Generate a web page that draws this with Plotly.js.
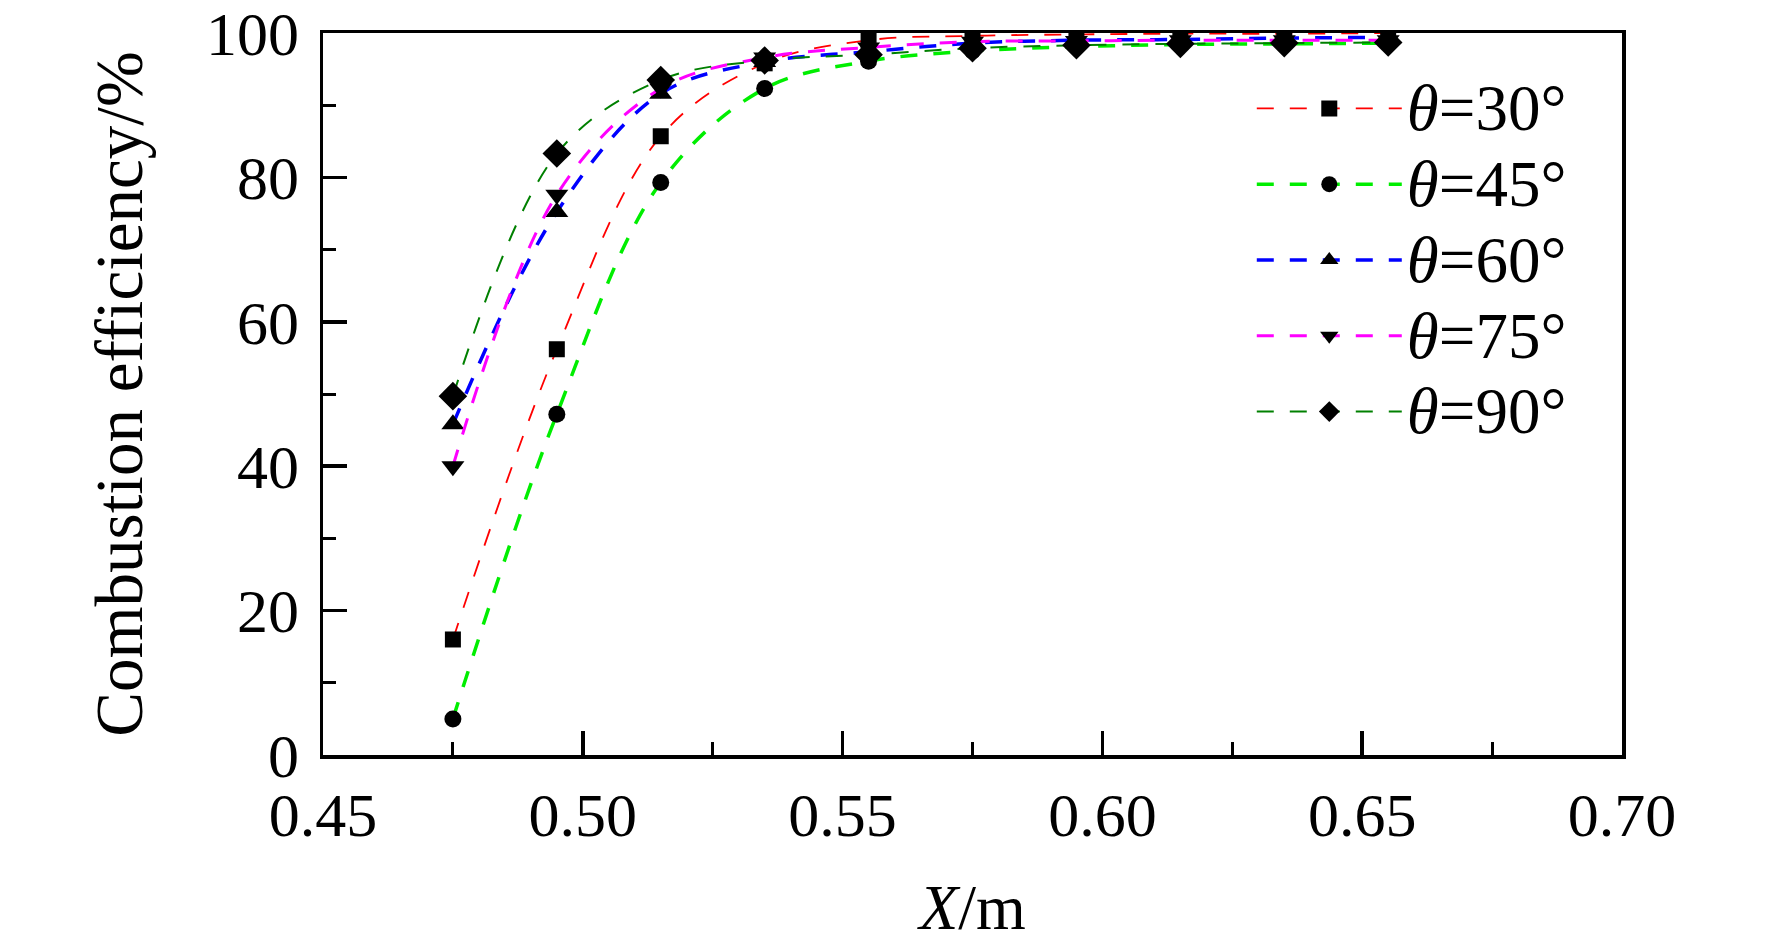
<!DOCTYPE html>
<html>
<head>
<meta charset="utf-8">
<script src="https://cdn.plot.ly/plotly-3.0.1.min.js"></script>
<style>
  html, body { margin: 0; padding: 0; background: #fff; }
  #chart { width: 1772px; height: 950px; }
</style>
</head>
<body>
<div id="chart"></div>
<script>
// ─── Data ─────────────────────────────────────────────────────────────────────
const xPos = [0.475, 0.495, 0.515, 0.535, 0.555, 0.575, 0.595, 0.615, 0.635, 0.655];

const eff30 = [16.0, 56.2, 85.7, 95.8, 99.0, 99.6, 99.8, 99.9, 99.9, 100.0];
const eff45 = [5.0, 47.2, 79.3, 92.3, 96.1, 97.5, 98.1, 98.4, 98.5, 98.6];
const eff60 = [45.8, 75.2, 91.6, 96.0, 97.4, 98.6, 99.0, 99.1, 99.3, 99.4];
const eff75 = [40.0, 77.6, 92.3, 96.6, 98.0, 98.8, 98.9, 99.0, 99.0, 99.0];
const eff90 = [49.7, 83.3, 93.5, 96.2, 97.0, 97.9, 98.3, 98.5, 98.6, 98.7];

const angles     = ['30', '45', '60', '75', '90'];
const seriesData = [eff30, eff45, eff60, eff75, eff90];

// ─── Styling ──────────────────────────────────────────────────────────────────
const lineColors  = ['#ff0000', '#00ee00', '#0000ff', '#ff00ff', '#008000'];
const lineWidths  = [1.8, 3.5, 3.5, 3, 2];
const markerShape = ['square', 'circle', 'triangle-up', 'triangle-down', 'diamond'];
const markerSizes = [16, 17, 20, 20, 22];

const FONT = 'Liberation Serif, Times New Roman, serif';

// legend text is drawn larger than the legend font so the rows stay tight
const legendLabel = a => `<span style="font-size:65px"><i>θ</i>=${a}°</span>`;

const traces = seriesData.map((vals, i) => ({
  x: xPos,
  y: vals,
  type: 'scatter',
  mode: 'lines+markers',
  name: legendLabel(angles[i]),
  line: {
    color: lineColors[i],
    width: lineWidths[i],
    dash: '17px,16px',
    shape: 'spline',
    smoothing: 1,
  },
  marker: {
    symbol: markerShape[i],
    size: markerSizes[i],
    color: '#000',
    line: { width: 0 },
  },
}));

const axisCommon = {
  showline:  true,
  linecolor: '#000',
  linewidth: 3.5,
  mirror:    true,
  showgrid:  false,
  zeroline:  false,
  ticks:     'inside',
  ticklen:   24,
  tickwidth: 3.5,
  tickcolor: '#000',
  ticklabeloverflow: 'allow',
  tickfont:  { family: FONT, size: 62, color: '#000' },
};

const layout = {
  width:  1772,
  height: 950,
  paper_bgcolor: '#fff',
  plot_bgcolor:  '#fff',
  margin: { l: 323, r: 150, t: 33, b: 195 },
  font: { family: FONT, color: '#000' },
  showlegend: true,
  legend: {
    x: 0.715,
    y: 0.955,
    xanchor: 'left',
    yanchor: 'top',
    bgcolor: 'rgba(0,0,0,0)',
    borderwidth: 0,
    itemwidth: 145,
    font: { family: FONT, size: 56, color: '#000' },
    tracegroupgap: 0,
  },
  xaxis: Object.assign({}, axisCommon, {
    range: [0.45, 0.70],
    dtick: 0.05,
    tick0: 0.45,
    tickformat: '.2f',
    ticklabelstandoff: 3,
    minor: { ticks: 'inside', dtick: 0.025, ticklen: 13, tickwidth: 3, tickcolor: '#000' },
    title: {
      text: '<i>X</i>/m',
      font: { family: FONT, size: 64, color: '#000' },
      standoff: 37,
    },
  }),
  yaxis: Object.assign({}, axisCommon, {
    range: [0, 100],
    dtick: 20,
    ticklabelstandoff: 8,
    minor: { ticks: 'inside', dtick: 10, ticklen: 13, tickwidth: 3, tickcolor: '#000' },
    title: {
      text: 'Combustion efficiency/%',
      font: { family: FONT, size: 67, color: '#000' },
      standoff: 42,
    },
  }),
};

Plotly.newPlot('chart', traces, layout, { displayModeBar: false, staticPlot: true });
</script>
</body>
</html>
